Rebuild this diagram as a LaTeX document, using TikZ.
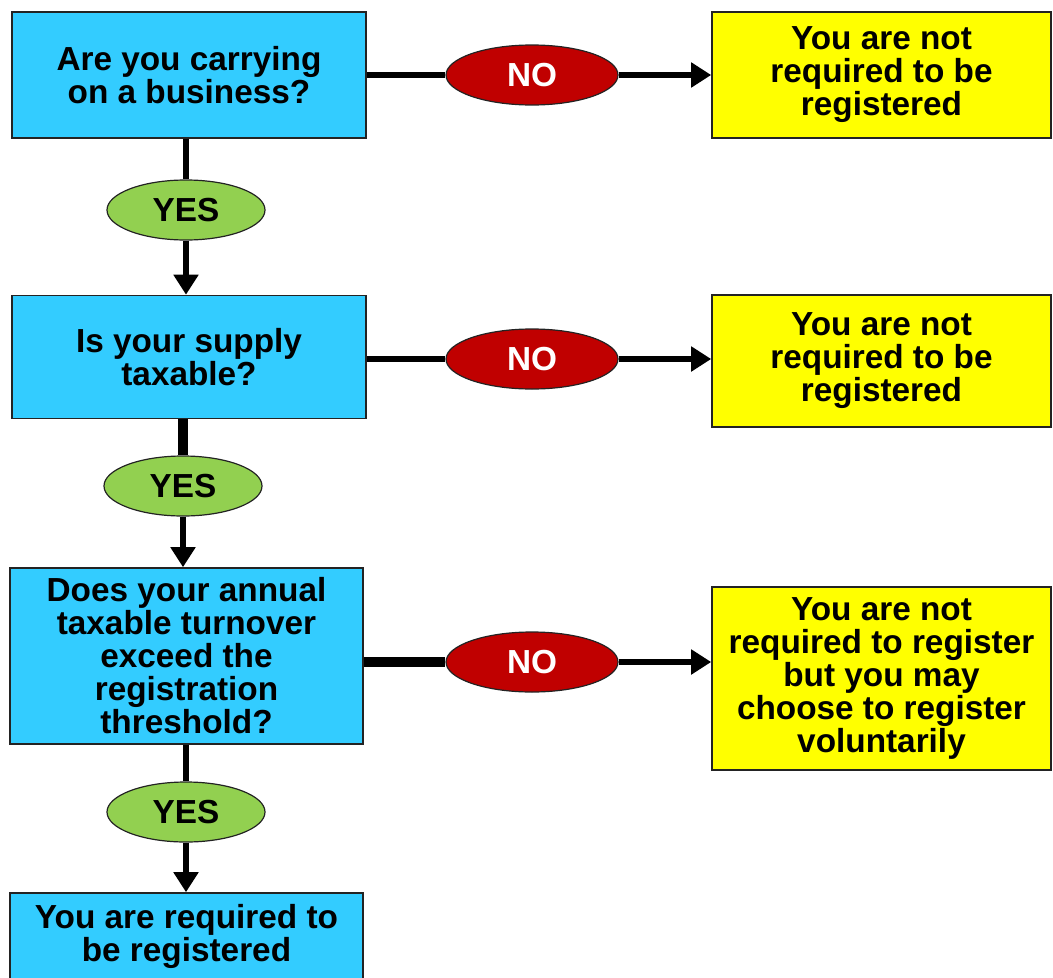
\documentclass[tikz,border=0pt]{standalone}
\usepackage{fontspec}
\setmainfont{Liberation Sans}
\usetikzlibrary{shapes}
\usetikzlibrary{arrows.meta}

\definecolor{qblue}{RGB}{51,204,255}
\definecolor{ayellow}{RGB}{255,255,0}
\definecolor{nored}{RGB}{192,0,0}
\definecolor{yesgreen}{RGB}{146,208,80}
\definecolor{edge}{RGB}{35,35,35}

\begin{document}
\begin{tikzpicture}[x=0.75pt,y=0.75pt,yscale=-1,xscale=1,
  txt/.style={font=\fontsize{25}{24.75}\selectfont\bfseries, align=center, inner sep=0pt},
  question/.style={txt, rectangle, draw=edge, line width=1.2pt, fill=qblue, minimum width=265.5pt},
  answer/.style={txt, rectangle, draw=edge, line width=1.2pt, fill=ayellow, minimum width=254.25pt},
  noell/.style={txt, ellipse, draw=edge, line width=0.9pt, fill=nored, text=white, minimum width=129pt, minimum height=45pt},
  yesell/.style={txt, ellipse, draw=edge, line width=0.9pt, fill=yesgreen, minimum width=118.5pt, minimum height=45pt},
  link/.style={line width=4.5pt},
  thicklink/.style={line width=7pt},
  tip/.style={-{Triangle[length=15pt,width=18pt]}}]
\useasboundingbox (0,0) rectangle (1053,978);

%Shape: Rectangle [question 1]
\node [question, minimum height=94.5pt] (q1) at (189,75) {Are you carrying\\on a business?};
%Shape: Rectangle [question 2]
\node [question, minimum height=92.25pt] (q2) at (189,357) {Is your supply\\taxable?};
%Shape: Rectangle [question 3]
\node [question, minimum height=132pt, minimum width=264.75pt] (q3) at (186.5,656) {Does your annual\\taxable turnover\\exceed the\\registration\\threshold?};
%Shape: Rectangle [result]
\node [question, minimum height=64.5pt, minimum width=264.75pt] (q4) at (186.5,936) {You are required to\\be registered};

%Shape: Rectangle [answer 1]
\node [answer, minimum height=94.5pt] (a1) at (881.5,75) {You are not\\required to be\\registered};
%Shape: Rectangle [answer 2]
\node [answer, minimum height=99pt] (a2) at (881.5,361) {You are not\\required to be\\registered};
%Shape: Rectangle [answer 3]
\node [answer, minimum height=137.25pt] (a3) at (881.5,678.5) {You are not\\required to register\\but you may\\choose to register\\voluntarily};

%Shape: Ellipse [no]
\node [noell] (n1) at (532,75) {NO};
\node [noell] (n2) at (532,359) {NO};
\node [noell] (n3) at (532,662) {NO};

%Shape: Ellipse [yes]
\node [yesell] (y1) at (186,210) {YES};
\node [yesell] (y2) at (183,486) {YES};
\node [yesell] (y3) at (186,812) {YES};

%Straight Lines [no branch]
\draw [link] (n1.west -| q1.east) -- (n1.west);
\draw [link,tip] (n1.east) -- (n1.east -| a1.west);
\draw [link] (n2.west -| q2.east) -- (n2.west);
\draw [link,tip] (n2.east) -- (n2.east -| a2.west);
\draw [thicklink] (n3.west -| q3.east) -- (n3.west);
\draw [link,tip] (n3.east) -- (n3.east -| a3.west);

%Straight Lines [yes branch]
\draw [link] (y1.north |- q1.south) -- (y1.north);
\draw [link,tip] (y1.south) -- (y1.south |- q2.north);
\draw [thicklink] (y2.north |- q2.south) -- (y2.north);
\draw [link,tip] (y2.south) -- (y2.south |- q3.north);
\draw [link] (y3.north |- q3.south) -- (y3.north);
\draw [link,tip] (y3.south) -- (y3.south |- q4.north);

\end{tikzpicture}
\end{document}
